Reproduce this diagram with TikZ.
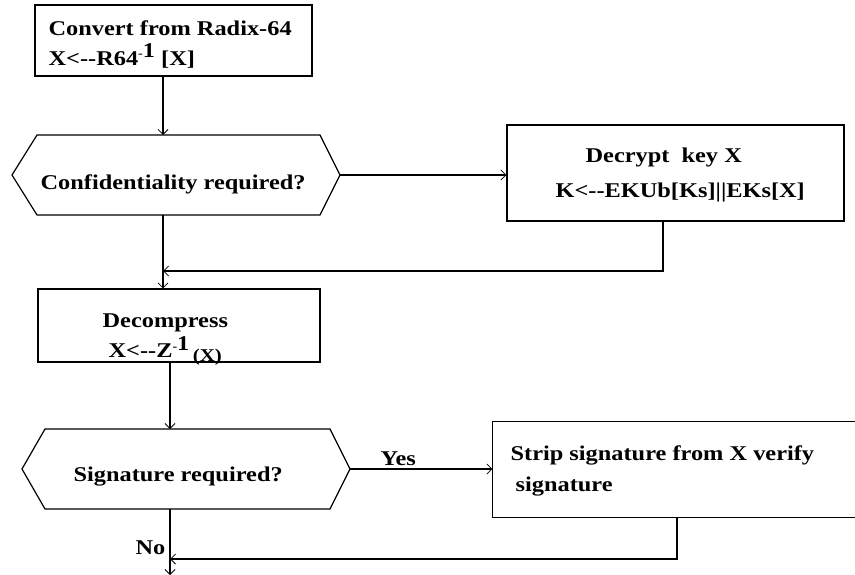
\documentclass[tikz,border=0pt]{standalone}
\usepackage{fontspec}
\setmainfont{Liberation Serif}[FakeStretch=1.16]
\usetikzlibrary{arrows.meta,calc}
\begin{document}
\begin{tikzpicture}[x=1pt,y=-1pt,
  line width=1.2pt,
  >={Straight Barb[length=5pt,width=10pt,line width=0.8pt]},
  box/.style={draw, rectangle, inner sep=0pt},
  txt/.style={font=\fontsize{21}{24}\selectfont\bfseries, inner sep=0pt, anchor=base west},
  flow/.style={draw, ->}]
\useasboundingbox (0,0) rectangle (855,575);
\fill[white] (0,0) rectangle (855,575);

% spines
\coordinate (sp1) at (163,0);
\coordinate (sp2) at (170,0);

% box 1
\node[box, minimum width=277pt, minimum height=71pt] (b1) at (173.5,40.5) {};
\node[txt] (t1a) at (48,36) {Convert from Radix-64};
\node[txt] (t1b) at (48,66) {X<-{}-R64\raisebox{0.42em}{\fontsize{12}{12}\selectfont -}\raisebox{0.42em}{1} [X]};

% hexagon 1
\coordinate (h1w) at (12,175);
\coordinate (h1nw) at (37,135);
\coordinate (h1ne) at (320,135);
\coordinate (h1e) at (340,175);
\coordinate (h1se) at (320,215);
\coordinate (h1sw) at (37,215);
\draw (h1w) -- (h1nw) -- (h1ne) -- (h1e) -- (h1se) -- (h1sw) -- cycle;
\node[txt] (t2) at (40,190) {Confidentiality required?};

% decrypt box
\node[box, minimum width=337pt, minimum height=96pt] (b2) at (675.5,173) {};
\node[txt] (t3a) at (585,163) {Decrypt\ \ key X};
\node[txt] (t3b) at (555,197) {K<-{}-EKUb[Ks]||EKs[X]};

% decompress box
\node[box, minimum width=282pt, minimum height=73pt] (b3) at (179,325.5) {};
\node[txt] (t4a) at (102,327) {Decompress};
\node[txt] (t4b) at (108,357) {X<-{}-Z\raisebox{0.3em}{\fontsize{12}{12}\selectfont -}\raisebox{0.3em}{1}\,\raisebox{-0.2em}{\fontsize{18}{18}\selectfont(X)}};

% hexagon 2
\coordinate (h2w) at (22,469);
\coordinate (h2nw) at (45,429);
\coordinate (h2ne) at (330,429);
\coordinate (h2e) at (350,469);
\coordinate (h2se) at (330,509);
\coordinate (h2sw) at (45,509);
\draw (h2w) -- (h2nw) -- (h2ne) -- (h2e) -- (h2se) -- (h2sw) -- cycle;
\node[txt] (t5) at (73,481) {Signature required?};

% strip box (right side beyond the picture)
\node[inner sep=0pt, minimum width=362pt, minimum height=95pt] (b4) at (674,469.5) {};
\draw (b4.north east) -- (b4.north west) -- (b4.south west) -- (b4.south east);
\node[txt] (t6a) at (510,460) {Strip signature from X verify};
\node[txt] (t6b) at (515,491) {signature};

% labels
\node[txt] (yes) at (380,465) {Yes};
\node[txt] (no) at (135,554) {No};

% connectors
\coordinate (d1) at (663,271);
\coordinate (d2) at (677,559);
\coordinate (endp) at (170,575);
\draw[flow] (b1.south -| sp1) -- (h1nw -| sp1);
\draw[flow] (h1e) -- (h1e -| b2.west);
\draw[flow] (h1sw -| sp1) -- (b3.north -| sp1);
\draw[flow] (b2.south -| d1) -- (d1) -- (d1 -| sp1);
\draw[flow] (b3.south -| sp2) -- (h2nw -| sp2);
\draw[flow] (h2e) -- (h2e -| b4.west);
\draw[flow] (h2sw -| sp2) -- (endp);
\draw[flow] (b4.south -| d2) -- (d2) -- (d2 -| sp2);
\end{tikzpicture}
\end{document}
